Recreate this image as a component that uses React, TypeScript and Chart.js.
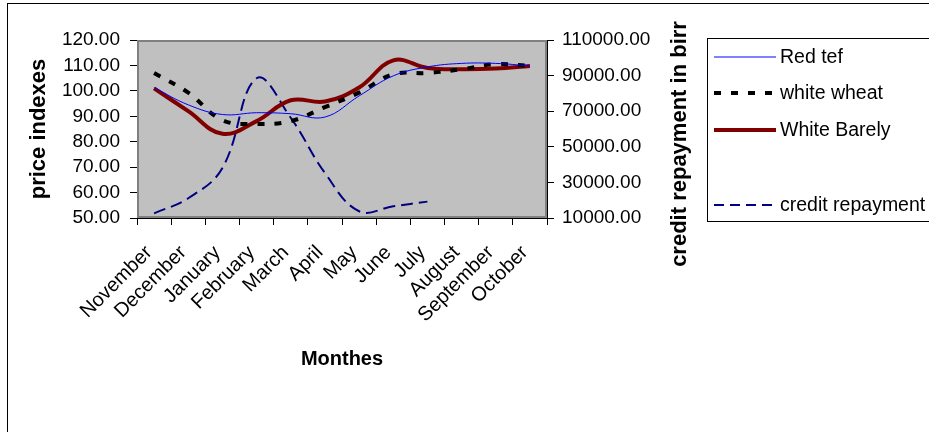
import React, { useEffect, useRef } from "react";
import { Chart, registerables } from "chart.js";

Chart.register(...registerables);

const months = ["November", "December", "January", "February", "March", "April", "May", "June", "July", "August", "September", "October"];
const redTef = [101.3, 94.5, 90.7, 91.4, 91.0, 89.7, 98.0, 105.9, 109.4, 110.8, 110.8, 109.8];
const whiteWheat = [107.0, 99.3, 88.5, 87.0, 88.1, 93.6, 99.3, 106.5, 107.0, 108.5, 110.5, 109.8];
const whiteBarely = [101.0, 92.0, 83.1, 88.1, 96.3, 95.8, 101.3, 112.0, 109.0, 108.5, 108.8, 109.8];
const creditRepayment = [12600, 21100, 38100, 88500, 66300, 35300, 13800, 16600, 19200, null, null, null];

const leftTicks = [50, 120, 10];
const rightTicks = [10000, 110000, 20000];

const FONT = "'Liberation Sans', Arial, sans-serif";

const framePlugin = {
  id: "frameAndLegend",
  afterDraw(chart: any) {
    const ctx = chart.ctx;
    ctx.save();
    // outer frame
    ctx.strokeStyle = "#000";
    ctx.lineWidth = 1;
    ctx.strokeRect(7.5, 3.5, 1000, 1000);
    // right axis title (reads bottom to top)
    ctx.fillStyle = "#000";
    ctx.font = `bold 22px ${FONT}`;
    ctx.textAlign = "center";
    ctx.textBaseline = "middle";
    ctx.translate(680, 144);
    ctx.rotate(-Math.PI / 2);
    ctx.fillText("credit repayment in birr", 0, 0);
    ctx.restore();

    // legend
    ctx.save();
    ctx.strokeStyle = "#000";
    ctx.lineWidth = 1;
    ctx.strokeRect(707.5, 38.5, 400, 183);
    const rows = [57, 93, 130, 205];
    chart.data.datasets.forEach((ds: any, i: number) => {
      const y = rows[i];
      ctx.beginPath();
      ctx.strokeStyle = ds.borderColor;
      ctx.lineWidth = ds.borderWidth;
      ctx.setLineDash(ds.legendDash || []);
      ctx.moveTo(714, y);
      ctx.lineTo(776, y);
      ctx.stroke();
      ctx.setLineDash([]);
      ctx.fillStyle = "#000";
      ctx.font = `19.5px ${FONT}`;
      ctx.textAlign = "left";
      ctx.textBaseline = "middle";
      ctx.fillText(ds.label, 780, y + 1);
    });
    ctx.restore();
  },
  beforeDatasetsDraw(chart: any) {
    const { ctx, chartArea } = chart;
    ctx.save();
    ctx.fillStyle = "#C0C0C0";
    ctx.fillRect(chartArea.left, chartArea.top, chartArea.right - chartArea.left, chartArea.bottom - chartArea.top);
    ctx.strokeStyle = "#808080";
    ctx.lineWidth = 2;
    ctx.strokeRect(chartArea.left + 1, chartArea.top + 1, chartArea.right - chartArea.left - 2, chartArea.bottom - chartArea.top - 2);
    ctx.restore();
  },
};

export default function App() {
  const ref = useRef<HTMLCanvasElement>(null);
  useEffect(() => {
    const chart = new Chart(ref.current!, {
      type: "line",
      data: {
        labels: months,
        datasets: [
          {
            label: "Red tef",
            data: redTef,
            borderColor: "#0000FF",
            borderWidth: 1,
            yAxisID: "y",
            tension: 0.4,
            pointRadius: 0,
          } as any,
          {
            label: "white wheat",
            data: whiteWheat,
            borderColor: "#000000",
            borderWidth: 4,
            borderDash: [7, 10],
            legendDash: [7, 10],
            yAxisID: "y",
            tension: 0.4,
            pointRadius: 0,
          },
          {
            label: "White Barely",
            data: whiteBarely,
            borderColor: "#800000",
            borderWidth: 4,
            yAxisID: "y",
            tension: 0.4,
            pointRadius: 0,
          },
          {
            label: "credit repayment",
            data: creditRepayment,
            borderColor: "#000080",
            borderWidth: 2,
            borderDash: [12, 6],
            legendDash: [10, 6],
            yAxisID: "y1",
            tension: 0.4,
            pointRadius: 0,
            spanGaps: false,
          },
        ],
      },
      options: {
        animation: false,
        responsive: false,
        devicePixelRatio: 1,
        layout: { padding: { left: 8, top: 40, right: 232, bottom: 0 } },
        plugins: { legend: { display: false }, tooltip: { enabled: false } },
        scales: {
          x: {
            type: "category",
            offset: true,
            grid: { display: true, drawOnChartArea: false, drawTicks: true, tickLength: 7, color: "#000", offset: true },
            border: { display: true, color: "#000", width: 1 },
            ticks: { color: "#000", font: { family: FONT, size: 20 }, minRotation: 45, maxRotation: 45, autoSkip: false, padding: 16, labelOffset: -5 },
            title: { display: true, text: "Monthes", color: "#000", font: { family: FONT, size: 20, weight: "bold" }, padding: { top: 0, bottom: 61 } },
            afterFit: (s: any) => { s.height = 214; },
          },
          y: {
            position: "left",
            min: leftTicks[0],
            max: leftTicks[1],
            grid: { display: true, drawOnChartArea: false, drawTicks: true, tickLength: 7, color: "#000" },
            border: { display: true, color: "#000", width: 1 },
            ticks: { stepSize: leftTicks[2], autoSkip: false, color: "#000", font: { family: FONT, size: 19 }, padding: 10, callback: (v: any) => Number(v).toFixed(2) },
            title: { display: true, text: "price indexes", color: "#000", font: { family: FONT, size: 22, weight: "bold" }, padding: { top: 18, bottom: 0 } },
            afterFit: (s: any) => { s.width = 129; },
          },
          y1: {
            position: "right",
            min: rightTicks[0],
            max: rightTicks[1],
            grid: { display: true, drawOnChartArea: false, drawTicks: true, tickLength: 7, color: "#000" },
            border: { display: true, color: "#000", width: 1 },
            ticks: { stepSize: rightTicks[2], autoSkip: false, color: "#000", font: { family: FONT, size: 19 }, padding: 8, callback: (v: any) => Number(v).toFixed(2) },
            afterFit: (s: any) => { s.width = 150; },
          },
        },
      } as any,
      plugins: [framePlugin],
    });
    return () => chart.destroy();
  }, []);
  return (
    <div style={{ position: "fixed", left: 0, top: 0, width: 929, height: 432, background: "#fff" }}>
      <canvas ref={ref} width={929} height={432} style={{ width: 929, height: 432 }} />
    </div>
  );
}
